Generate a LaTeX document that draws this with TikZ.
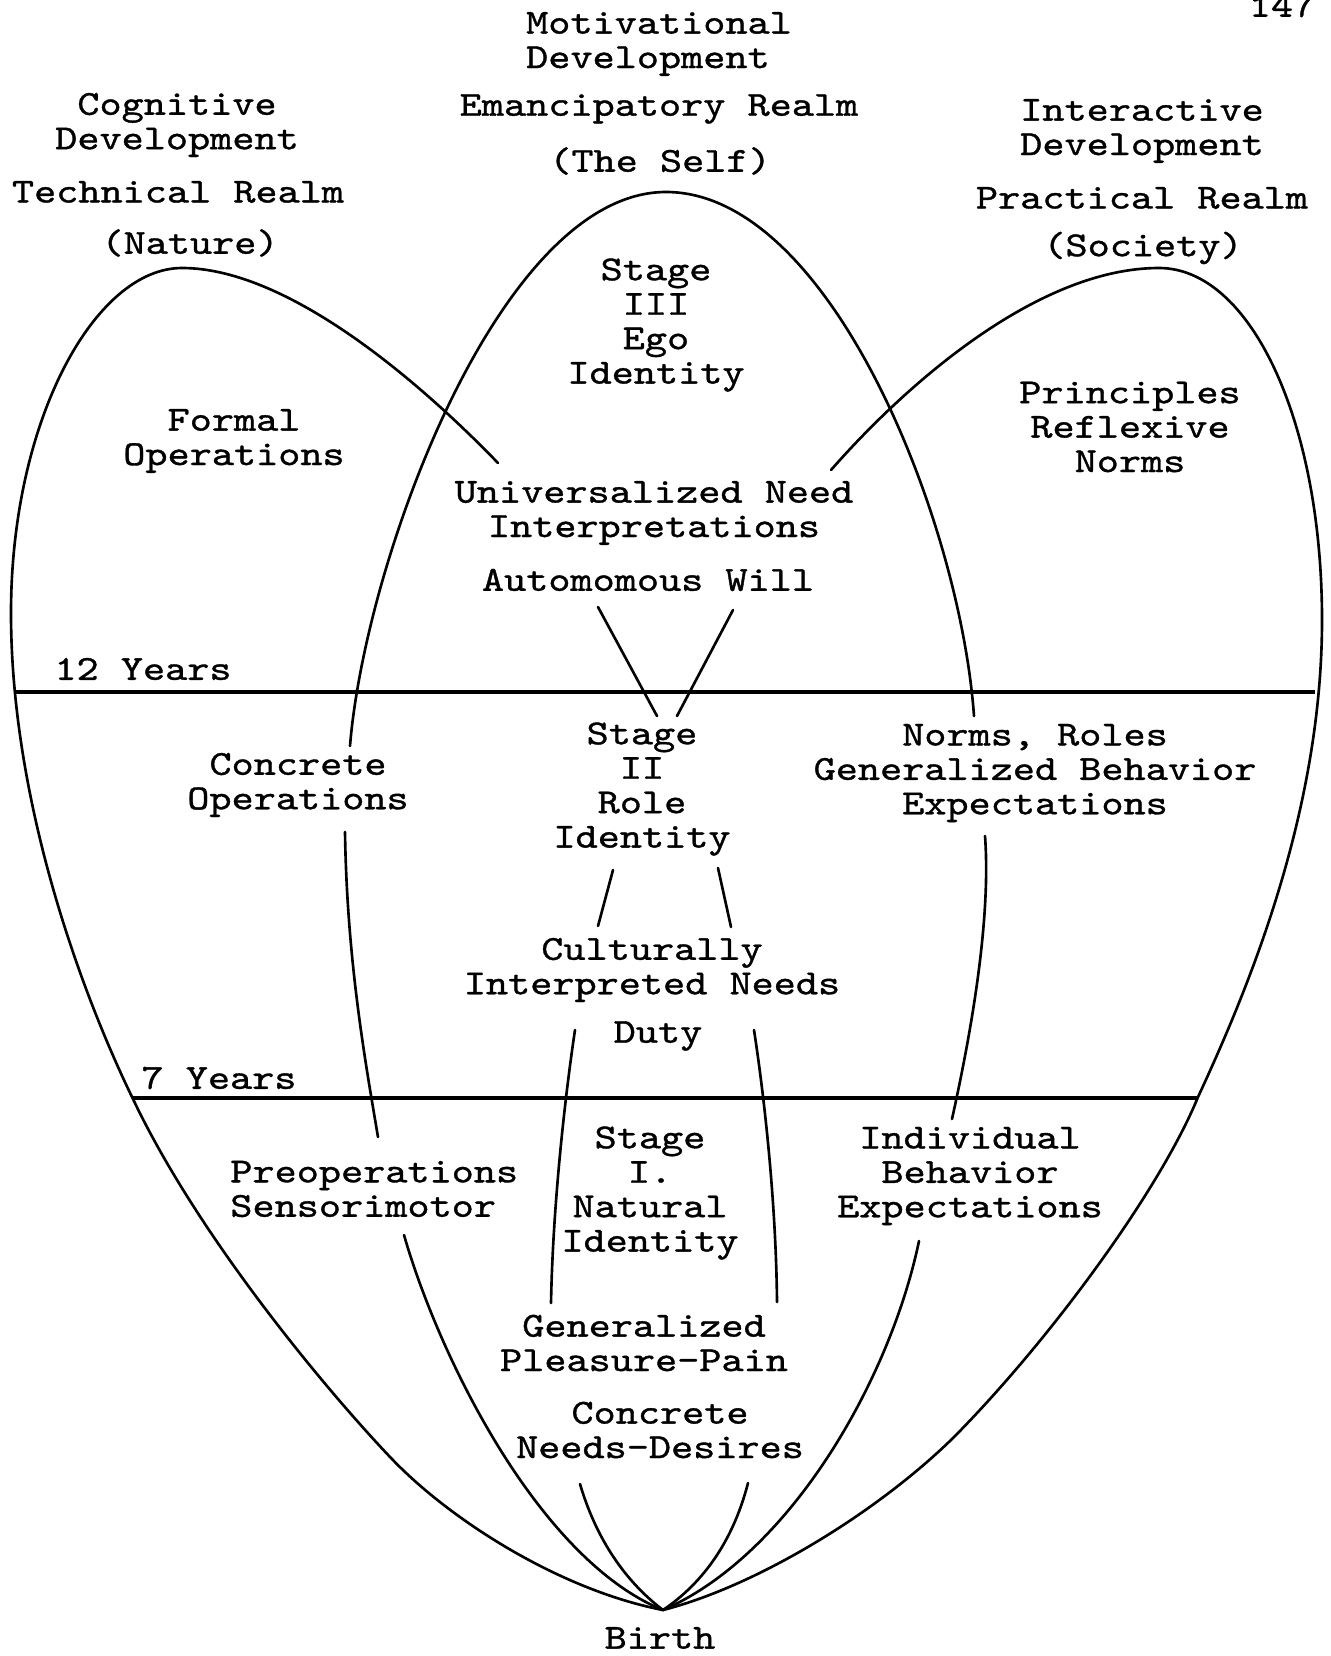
\documentclass[tikz,border=0pt]{standalone}
\usepackage{fontspec}
\usepackage{tikz}
\newfontfamily\typeface{lmmono10-regular.otf}[FakeStretch=1.2, FakeBold=1]
\tikzstyle{typed}=[inner sep=0pt, align=center, font={\typeface\fontsize{20}{19.6}\selectfont\lineskiplimit=-20pt}]
\tikzstyle{arm}=[line width=1.5pt, line join=round, line cap=round]
\tikzstyle{agebar}=[line width=1.9pt]

\begin{document}
\begin{tikzpicture}[x=0.02cm, y=-0.02cm]
  \useasboundingbox (0,0) rectangle (1330,1656);
  % headings of the three realms
  \node[typed, align=left] (motiv) at (659,44) {Motivational\\Development};
  \node[typed] (emancip) at (659,109) {Emancipatory Realm};
  \node[typed] (self) at (660,161) {(The Self)};
  \node[typed] (cogdev) at (177,125) {Cognitive\\Development};
  \node[typed] (technical) at (178,192) {Technical Realm};
  \node[typed] (nature) at (190,243) {(Nature)};
  \node[typed] (interdev) at (1142,131) {Interactive\\Development};
  \node[typed] (practical) at (1142,198) {Practical Realm};
  \node[typed] (society) at (1143,248) {(Society)};
  \node[typed] (page) at (1282,6) {147};
  % stage III
  \node[typed] (stage3) at (656,325) {Stage\\III\\Ego\\Identity};
  \node[typed] (formal) at (234,441) {Formal\\Operations};
  \node[typed] (principles) at (1130,427) {Principles\\Reflexive\\Norms};
  \node[typed] (universal) at (654,513) {Universalized Need\\Interpretations};
  \node[typed] (autonomous) at (648,580) {Automomous Will};
  \node[typed] (twelve) at (143,669) {12 Years};
  % stage II
  \node[typed] (stage2) at (642,789) {Stage\\II\\Role\\Identity};
  \node[typed] (concrete) at (298,785) {Concrete\\Operations};
  \node[typed] (normsroles) at (1035,773) {Norms, Roles\\Generalized Behavior\\Expectations};
  \node[typed] (cultural) at (652,970) {Culturally\\Interpreted Needs};
  \node[typed] (duty) at (658,1036) {Duty};
  \node[typed] (seven) at (219,1078) {7 Years};
  % stage I
  \node[typed] (stage1) at (650,1193) {Stage\\I.\\Natural\\Identity};
  \node[typed, align=left, anchor=west] (preop) at (230,1189) {Preoperations\\Sensorimotor};
  \node[typed] (individual) at (970,1176) {Individual\\Behavior\\Expectations};
  \node[typed] (pleasure) at (644,1343) {Generalized\\Pleasure-Pain};
  \node[typed] (needs) at (660,1430) {Concrete\\Needs-Desires};
  \node[typed] (birth) at (660,1638) {Birth};
  \coordinate (apex) at (663,1610);

  % age lines
  \coordinate (twelveL) at (16,692);
  \coordinate (twelveR) at (1315,692);
  \coordinate (sevenL) at (133,1098);
  \coordinate (sevenR) at (1198,1098);
  \draw[agebar] (twelveL) -- (twelveR);
  \draw[agebar] (sevenL) -- (sevenR);

  % cognitive loop
  \draw[arm] (apex) .. controls (560,1590) and (450,1520) .. (391,1458)
    .. controls (330,1394) and (200,1240) .. (133,1099)
    .. controls (80,990) and (11,800) .. (11,613)
    .. controls (11,420) and (95,268) .. (182,268)
    .. controls (283,268) and (410,372) .. (498,463);
  \draw[arm] (598,607) -- (657,716);
  \draw[arm] (613,870) -- (598,926);
  \draw[arm] (575,1030) .. controls (566,1090) and (553,1200) .. (551,1303);
  \draw[arm] (580,1484) .. controls (598,1545) and (630,1585) .. (apex);

  % interactive loop
  \draw[arm] (apex) .. controls (760,1585) and (880,1510) .. (954,1437)
    .. controls (1050,1340) and (1160,1190) .. (1198,1097)
    .. controls (1250,985) and (1322,810) .. (1322,620)
    .. controls (1322,420) and (1250,268) .. (1159,268)
    .. controls (1040,268) and (910,380) .. (831,470);
  \draw[arm] (733,610) -- (677,716);
  \draw[arm] (718,868) -- (731,927);
  \draw[arm] (754,1030) .. controls (764,1095) and (776,1200) .. (777,1302);
  \draw[arm] (748,1483) .. controls (732,1545) and (700,1585) .. (apex);

  % motivational loop
  \draw[arm] (350,746) .. controls (365,560) and (500,192) .. (666,192)
    .. controls (830,192) and (960,520) .. (974,716);
  \draw[arm] (345,832) .. controls (347,960) and (365,1060) .. (378,1137);
  \draw[arm] (404,1235) .. controls (440,1360) and (540,1560) .. (apex);
  \draw[arm] (985,836) .. controls (992,930) and (965,1060) .. (952,1119);
  \draw[arm] (919,1241) .. controls (890,1380) and (790,1555) .. (apex);
\end{tikzpicture}
\end{document}
